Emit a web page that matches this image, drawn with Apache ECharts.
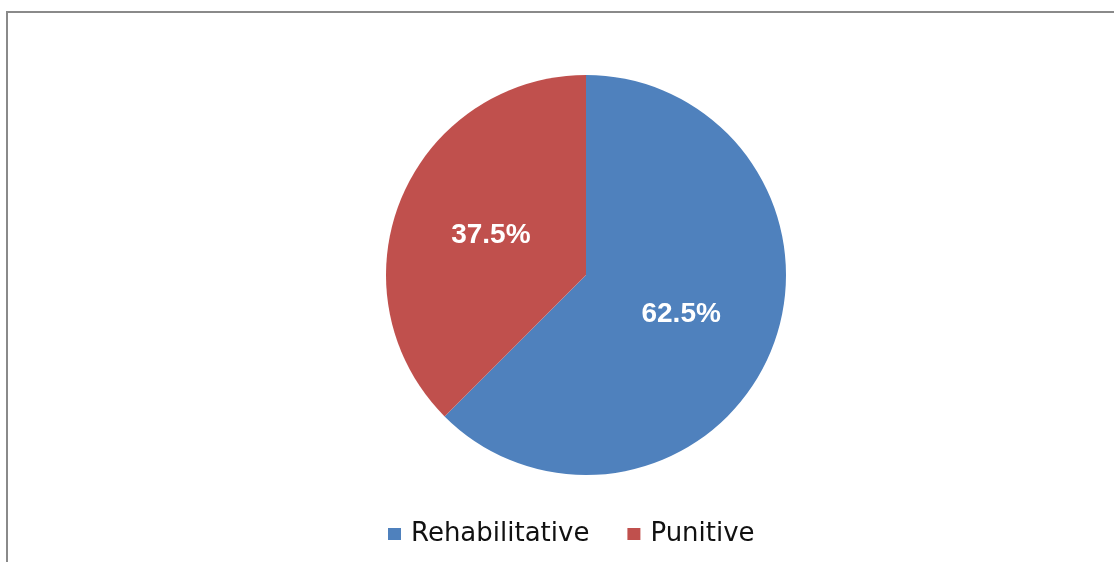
<!DOCTYPE html>
<html>
<head>
<meta charset="utf-8">
<script src="https://cdn.jsdelivr.net/npm/echarts@6/dist/echarts.min.js"></script>
<style>
html,body{margin:0;padding:0;background:#fff;}
#chart{width:1114px;height:562px;}
</style>
</head>
<body>
<div id="chart"></div>
<script>
const categories = ['Rehabilitative', 'Punitive'];
const values = [62.5, 37.5];
const colors = ['#4F81BD', '#C0504D'];

const chart = echarts.init(document.getElementById('chart'), null, {renderer: 'canvas'});
chart.setOption({
  backgroundColor: '#ffffff',
  animation: false,
  graphic: [{
    type: 'rect',
    z: -10,
    silent: true,
    shape: {x: 7, y: 12, width: 1300, height: 700},
    style: {fill: 'none', stroke: '#8a8a8a', lineWidth: 2}
  }],
  legend: {
    left: 383,
    top: 516,
    itemWidth: 13,
    itemHeight: 12,
    itemGap: 38,
    icon: 'rect',
    textStyle: {
      fontFamily: 'DejaVu Sans',
      fontSize: 26,
      color: '#111111',
      padding: [0, 0, 0, 5]
    },
    data: categories
  },
  series: [{
    type: 'pie',
    center: [586, 275],
    radius: [0, 200],
    startAngle: 90,
    clockwise: true,
    label: {
      show: true,
      position: 'inside',
      formatter: function (p) { return p.value.toFixed(1) + '%'; },
      color: '#ffffff',
      fontFamily: 'Liberation Sans',
      fontWeight: 'bold',
      fontSize: 28
    },
    labelLine: {show: false},
    itemStyle: {borderWidth: 0},
    emphasis: {disabled: true},
    data: categories.map((c, i) => ({name: c, value: values[i], itemStyle: {color: colors[i]}}))
  }]
});
</script>
</body>
</html>
